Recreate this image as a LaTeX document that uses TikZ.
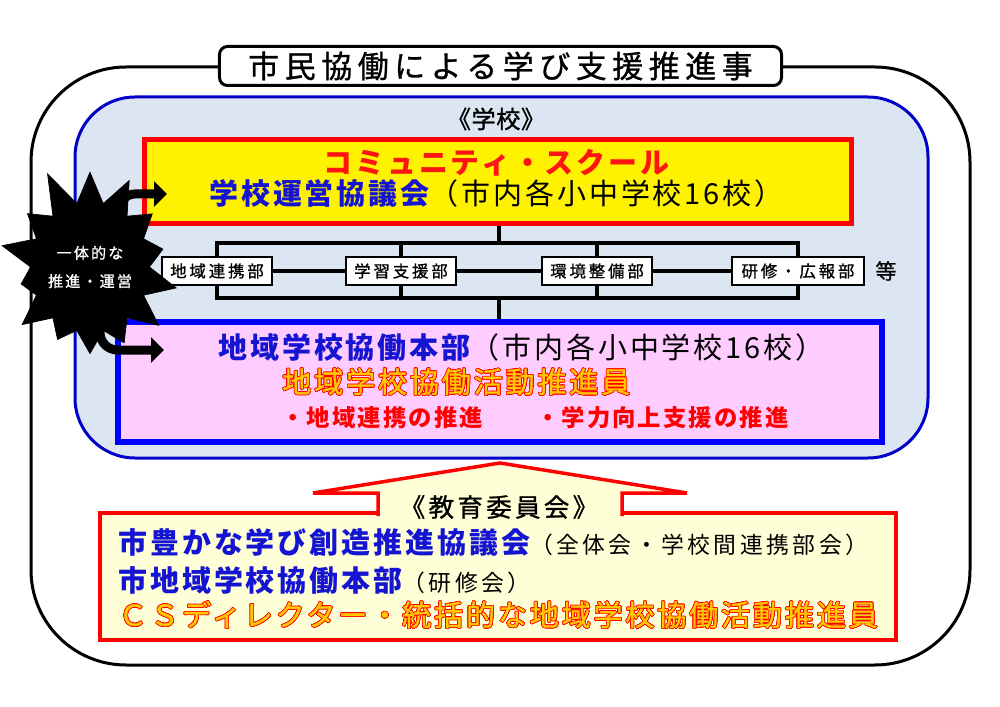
\documentclass[tikz,border=0pt]{standalone}
\usepackage{fontspec}
\setmainfont{Noto Sans CJK JP}
\newfontfamily\medfont{Noto Sans CJK JP}[FakeBold=1]
\usepackage[copies]{contour}
\contourlength{0.4pt}
\contournumber{16}
\usetikzlibrary{shapes.symbols, arrows.meta, positioning}

\definecolor{csred}{RGB}{255,20,20}
\definecolor{txtblue}{RGB}{20,20,210}
\definecolor{boxblue}{RGB}{0,0,255}
\definecolor{regionblue}{RGB}{0,0,200}
\definecolor{regionfill}{RGB}{220,230,242}
\definecolor{pinkfill}{RGB}{255,204,255}
\definecolor{paleyellow}{RGB}{255,255,215}
\definecolor{cdorange}{RGB}{255,200,0}

\newcommand{\jfont}[2]{\fontsize{#1}{#1}\selectfont\addfontfeatures{LetterSpace=#2}}
\newcommand{\orangeout}[1]{{\color{cdorange}\contour{red}{#1}}}

\tikzset{
    frame/.style={draw=black, line width=0.6mm, rounded corners=19mm},
    region/.style={draw=regionblue, fill=regionfill, line width=0.6mm, rounded corners=12mm},
    deptbox/.style={draw, fill=white, line width=0.4mm, minimum height=5.6mm, inner sep=0pt, font=\medfont\jfont{9.3pt}{18}},
    bus/.style={line width=0.65mm},
    jump/.style={line width=1.8mm, -{Triangle[length=2.6mm,width=5mm]}},
    line/.style={anchor=west, inner sep=0pt},
    big/.style={font=\jfont{16.5pt}{10}},
    bigmed/.style={font=\medfont\jfont{16.5pt}{10}},
}

\begin{document}
\begin{tikzpicture}[x=0.2mm, y=-0.2mm]
        \useasboundingbox (0,0) rectangle (1000,707);

        \draw[frame] (31,67) rectangle (970,665);
        \node[draw, fill=white, line width=0.6mm, rounded corners=1.6mm, minimum width=112.4mm, minimum height=7.8mm, inner sep=0pt, font=\medfont\jfont{17.6pt}{18}] (title) at (500.5,66) {市民協働による学び支援推進事};

        \draw[region] (75,97) rectangle (928,458);
        \node[font=\medfont\jfont{13.8pt}{2}] (school) at (496,119) {《学校》};

        % community school
        \node[draw=red, fill=yellow, line width=1mm, minimum width=141.4mm, minimum height=16.8mm] (cs) at (498,181.5) {};
        \node[big, text=csred] (csname) at (496.5,163) {\bfseries コミュニティ・スクール};
        \node[big] (council) at (496.5,193) {{\color{txtblue}\bfseries 学校運営協議会}（市内各小中学校16校）};

        % departments
        \node[deptbox, minimum width=22mm] (d1) at (217,271) {地域連携部};
        \node[deptbox, minimum width=22mm] (d2) at (401,271) {学習支援部};
        \node[deptbox, minimum width=22mm] (d3) at (597,271) {環境整備部};
        \node[deptbox, minimum width=26.4mm] (d4) at (798,271) {研修・広報部};
        \node[right=2mm of d4, inner sep=0pt, font=\medfont\jfont{12pt}{0}] (etc) {等};

        % local headquarters
        \node[draw=boxblue, fill=pinkfill, line width=1.2mm, minimum width=152.8mm, minimum height=24mm] (hq) at (500,382) {};
        \node[line, big] (hq1) at (218,347) {{\color{txtblue}\bfseries 地域学校協働本部}（市内各小中学校16校）};
        \node[line, bigmed] (hq2) at (282,382) {\orangeout{地域学校協働活動推進員}};
        \node[line, font=\jfont{13.3pt}{9}, text=red] (hq3) at (281,418) {\bfseries ・地域連携の推進　　・学力向上支援の推進};

        \coordinate (bustop) at (499,243);
        \coordinate (busbot) at (499,298);
        \draw[bus] (cs.south -| bustop) -- (bustop);
        \draw[bus] (busbot) -- (hq.north -| busbot);
        \draw[bus] (d1.north) -- (d1.north |- bustop) -- (d4.north |- bustop) -- (d4.north)
            (d2.north) -- (d2.north |- bustop)
            (d3.north) -- (d3.north |- bustop);
        \draw[bus] (d1.south) -- (d1.south |- busbot) -- (d4.south |- busbot) -- (d4.south)
            (d2.south) -- (d2.south |- busbot)
            (d3.south) -- (d3.south |- busbot);
        \draw[bus] (d1) -- (d2) (d2) -- (d3) (d3) -- (d4);

        % burst and its arrows
        \node[starburst, fill=black, draw=black, inner sep=0pt, starburst points=14, starburst point height=8mm, random starburst=11, minimum width=30mm, minimum height=42mm, text=white, align=center, font=\medfont\jfont{8.6pt}{14}] (burst) at (90,267) {一体的な\\[7.5pt]推進・運営};
        \coordinate (up0) at (120,228);
        \coordinate (up1) at (167,194);
        \coordinate (dn0) at (100,318);
        \coordinate (dn1) at (164,350);
        \draw[jump, rounded corners=3mm] (up0) |- (up1);
        \draw[jump, rounded corners=3.5mm] (dn0) |- (dn1);

        % board of education
        \node[draw=red, fill=paleyellow, line width=0.7mm, minimum width=159.2mm, minimum height=25.4mm] (bee) at (498,576.5) {};
        \filldraw[draw=red, fill=paleyellow, line width=0.7mm, line join=miter] (378,516) -- (378,493) -- (313,493) -- (500,463) -- (687,493) -- (622,493) -- (622,516);
        \node[font=\medfont\jfont{14.5pt}{13}] (boe) at (499,507) {《教育委員会》};
        \node[line, big] (bee1) at (118,542) {{\color{txtblue}\bfseries 市豊かな学び創造推進協議会}{\jfont{13pt}{15}（全体会・学校間連携部会）}};
        \node[line, big] (bee2) at (118,580) {{\color{txtblue}\bfseries 市地域学校協働本部}{\jfont{13pt}{15}（研修会）}};
        \node[line, bigmed] (bee3) at (118,615) {\orangeout{ＣＳディレクター・統括的な地域学校協働活動推進員}};
\end{tikzpicture}
\end{document}
